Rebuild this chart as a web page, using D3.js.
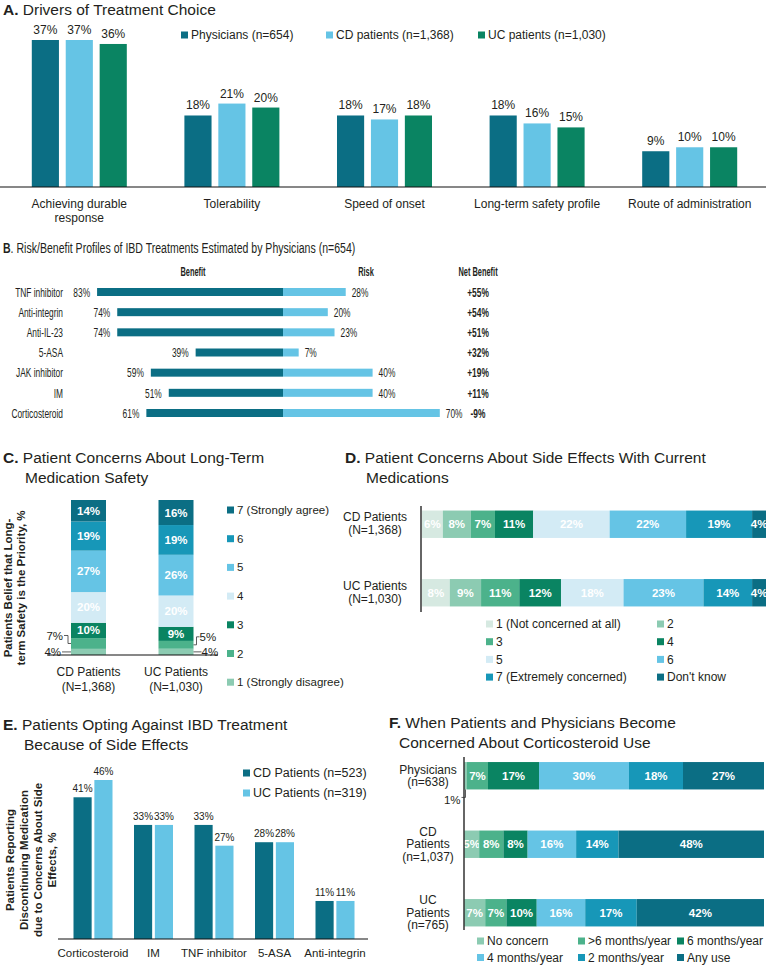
<!DOCTYPE html>
<html>
<head>
<meta charset="utf-8">
<script src="https://cdn.jsdelivr.net/npm/d3@7"></script>
<style>
  body { margin: 0; background: #fff; }
  text { font-family: "Liberation Sans", Arial, Helvetica, sans-serif; fill: #231f20; }
</style>
</head>
<body>
<div id="chart"></div>
<script>
// ---- data ----
const driverCats = ["Achieving durable\nresponse", "Tolerability", "Speed of onset", "Long-term safety profile", "Route of administration"];
const driverGroups = ["Physicians (n=654)", "CD patients (n=1,368)", "UC patients (n=1,030)"];
const driverPhys = [37, 18, 18, 18, 9];
const driverCD = [37, 21, 17, 16, 10];
const driverUC = [36, 20, 18, 15, 10];

const treatments = ["TNF inhibitor", "Anti-integrin", "Anti-IL-23", "5-ASA", "JAK inhibitor", "IM", "Corticosteroid"];
const benefit = [83, 74, 74, 39, 59, 51, 61];
const risk = [28, 20, 23, 7, 40, 40, 70];

const safetyKeys = ["1 (Strongly disagree)", "2", "3", "4", "5", "6", "7 (Strongly agree)"];
const safetyGroups = ["CD Patients\n(N=1,368)", "UC Patients\n(N=1,030)"];
const safetyCD = [4, 7, 10, 20, 27, 19, 14];
const safetyUC = [4, 5, 9, 20, 26, 19, 16];

const sideKeys = ["1 (Not concerned at all)", "2", "3", "4", "5", "6", "7 (Extremely concerned)", "Don't know"];
const sideGroups = ["CD Patients\n(N=1,368)", "UC Patients\n(N=1,030)"];
const sideCD = [6, 8, 7, 11, 22, 22, 19, 4];
const sideUC = [8, 9, 11, 12, 18, 23, 14, 4];

const optCats = ["Corticosteroid", "IM", "TNF inhibitor", "5-ASA", "Anti-integrin"];
const optGroups = ["CD Patients (n=523)", "UC Patients (n=319)"];
const optCD = [41, 33, 33, 28, 11];
const optUC = [46, 33, 27, 28, 11];

const steroidKeys = ["No concern", ">6 months/year", "6 months/year", "4 months/year", "2 months/year", "Any use"];
const steroidGroups = ["Physicians\n(n=638)", "CD\nPatients\n(n=1,037)", "UC\nPatients\n(n=765)"];
const steroidPhys = [1, 7, 17, 30, 18, 27];
const steroidCD = [5, 8, 8, 16, 14, 48];
const steroidUC = [7, 7, 10, 16, 17, 42];

// colours
const TEAL = "#0b6e84", MTEAL = "#1797b8", LBLUE = "#65c4e5", PBLUE = "#d3ebf5";
const GREEN = "#0a8462", MGREEN = "#4cb28b", LGREEN = "#8ccbb2", PGREEN = "#d6e9e1";

const W = 768, H = 966;
const svg = d3.select("#chart").append("svg").attr("width", W).attr("height", H);

// titles: bold letter then regular text
function title(x, y, letter, rest, line2, x2) {
  const t = svg.append("text").attr("x", x).attr("y", y).attr("dy", "0.35em")
    .style("font-size", "15.5px");
  t.append("tspan").attr("font-weight", "bold").text(letter);
  t.append("tspan").text(rest);
  if (line2) {
    svg.append("text").attr("x", x2).attr("y", y + 20).attr("dy", "0.35em")
      .style("font-size", "15.5px").text(line2);
  }
}

function legendItem(g, x, y, color, label, size) {
  g.append("rect").attr("x", x).attr("y", y - 3.5).attr("width", 7).attr("height", 7).attr("fill", color);
  g.append("text").attr("x", x + 10).attr("y", y).attr("dy", "0.35em")
    .style("font-size", (size || 12) + "px").text(label);
}

// ================= A =================
title(3, 10, "A.", " Drivers of Treatment Choice");
const gA = svg.append("g");
const xA = d3.scaleBand().domain(driverCats).range([3, 766]);
const xA2 = d3.scaleBand().domain(driverGroups).range([-47.5, 47.5]).paddingInner(0.2);
const yA = d3.scaleLinear().domain([0, 37]).range([187, 40]);
const colA = d3.scaleOrdinal().domain(driverGroups).range([TEAL, LBLUE, GREEN]);
const seriesA = [driverPhys, driverCD, driverUC];
const flatA = [];
driverCats.forEach((c, i) => driverGroups.forEach((g, j) => flatA.push({ cat: c, grp: g, v: seriesA[j][i] })));

gA.selectAll("rect.bar").data(flatA).join("rect")
  .attr("x", d => xA(d.cat) + xA.bandwidth() / 2 + xA2(d.grp))
  .attr("width", xA2.bandwidth())
  .attr("y", d => yA(d.v)).attr("height", d => yA(0) - yA(d.v))
  .attr("fill", d => colA(d.grp));
gA.selectAll("text.val").data(flatA).join("text")
  .attr("x", d => xA(d.cat) + xA.bandwidth() / 2 + xA2(d.grp) + xA2.bandwidth() / 2)
  .attr("y", d => yA(d.v) - 6).attr("text-anchor", "middle")
  .style("font-size", "12px").text(d => d.v + "%");

const axA = gA.append("g").attr("transform", `translate(0,${yA(0)})`)
  .call(d3.axisBottom(xA).tickSize(0).tickSizeOuter(0).tickPadding(12));
axA.select(".domain").attr("stroke", "#111").attr("stroke-width", 1.2).attr("d", "M0,0H766");
axA.selectAll(".tick text").style("font-size", "12px").attr("fill", "#231f20")
  .style("font-family", "Liberation Sans, Arial, sans-serif")
  .each(function (d) {
    const t = d3.select(this);
    const lines = d.split("\n");
    t.text(null);
    lines.forEach((l, i) => t.append("tspan").attr("x", 0).attr("dy", i === 0 ? "0.71em" : "1.2em").text(l));
  });

const legA = gA.append("g");
const legAx = [181, 326, 478];
driverGroups.forEach((g, j) => legendItem(legA, legAx[j], 35, colA(g), g, 12));

// ================= B =================
const SX = 0.62; // condensed type
function ctext(g, x, y, s, anchor, size, weight) {
  return g.append("text").attr("transform", `translate(${x},${y}) scale(${SX},1)`)
    .attr("dy", "0.35em").attr("text-anchor", anchor)
    .style("font-size", size + "px").attr("font-weight", weight || "normal").text(s);
}
const gB = svg.append("g");
{
  const t = gB.append("text").attr("transform", "translate(3,248) scale(0.68,1)").attr("dy", "0.35em")
    .style("font-size", "15.5px");
  t.append("tspan").attr("font-weight", "bold").text("B");
  t.append("tspan").text(". Risk/Benefit Profiles of IBD Treatments Estimated by Physicians (n=654)");
}
const xB = d3.scaleLinear().domain([-100, 100]).range([283 - 224, 283 + 224]);
const yB = d3.scalePoint().domain(treatments).range([292, 413]);
const rowsB = treatments.map((t, i) => ({ t, b: benefit[i], r: risk[i], net: benefit[i] - risk[i] }));

ctext(gB, 193, 272, "Benefit", "middle", 12, "bold");
ctext(gB, 366, 272, "Risk", "middle", 12, "bold");
ctext(gB, 478, 272, "Net Benefit", "middle", 12, "bold");

gB.selectAll("rect.ben").data(rowsB).join("rect")
  .attr("x", d => xB(-d.b)).attr("width", d => xB(0) - xB(-d.b))
  .attr("y", d => yB(d.t) - 4).attr("height", 8).attr("fill", TEAL);
gB.selectAll("rect.risk").data(rowsB).join("rect")
  .attr("x", xB(0)).attr("width", d => xB(d.r) - xB(0))
  .attr("y", d => yB(d.t) - 4).attr("height", 8).attr("fill", LBLUE);
rowsB.forEach(d => {
  const y = yB(d.t);
  ctext(gB, 63, y, d.t, "end", 13.5);
  ctext(gB, xB(-d.b) - 7, y, d.b + "%", "end", 13.5);
  ctext(gB, xB(d.r) + 6, y, d.r + "%", "start", 13.5);
  ctext(gB, 478, y, (d.net >= 0 ? "+" : "-") + Math.abs(d.net) + "%", "middle", 13.5, "bold");
});

// ================= C =================
title(3, 458, "C.", " Patient Concerns About Long-Term", "Medication Safety", 25);
const gC = svg.append("g");
const colSafety = d3.scaleOrdinal().domain(safetyKeys).range([LGREEN, MGREEN, GREEN, PBLUE, LBLUE, MTEAL, TEAL]);
const rowsC = safetyGroups.map((g, i) => {
  const o = { grp: g };
  safetyKeys.forEach((k, j) => o[k] = (i === 0 ? safetyCD : safetyUC)[j]);
  return o;
});
const stackC = d3.stack().keys(safetyKeys).offset(d3.stackOffsetExpand)(rowsC);
const xC = d3.scaleBand().domain(safetyGroups).range([44.75, 219.75]).paddingInner(0.6).paddingOuter(0.3);
const yC = d3.scaleLinear().domain([0, 1]).range([655, 500]);

stackC.forEach((layer, j) => {
  gC.selectAll(null).data(layer).join("rect")
    .attr("x", d => xC(d.data.grp)).attr("width", xC.bandwidth())
    .attr("y", d => yC(d[1])).attr("height", d => yC(d[0]) - yC(d[1]))
    .attr("fill", colSafety(layer.key));
  if (j >= 2) {
    gC.selectAll(null).data(layer).join("text")
      .attr("x", d => xC(d.data.grp) + xC.bandwidth() / 2)
      .attr("y", d => (yC(d[0]) + yC(d[1])) / 2).attr("dy", "0.35em")
      .attr("text-anchor", "middle").attr("font-weight", "bold")
      .style("font-size", "11.5px").style("fill", "#fff")
      .text(d => d.data[layer.key] + "%");
  }
});
gC.append("line").attr("x1", 47).attr("x2", 218).attr("y1", yC(0)).attr("y2", yC(0))
  .attr("stroke", "#111").attr("stroke-width", 1.2);

// small segment call-outs
{
  const mid = (li, gi) => (yC(stackC[li][gi][0]) + yC(stackC[li][gi][1])) / 2;
  const ann = gC.append("g").attr("fill", "none").attr("stroke", "#333").attr("stroke-width", 0.8);
  const cdL = xC(safetyGroups[0]), ucR = xC(safetyGroups[1]) + xC.bandwidth();
  const m2cd = mid(1, 0), m1cd = mid(0, 0), m2uc = mid(1, 1), m1uc = mid(0, 1);
  ann.append("path").attr("d", `M${cdL - 7},${m2cd - 8}H${cdL - 3}V${m2cd}H${cdL}`);
  ann.append("path").attr("d", `M${cdL - 9},${m1cd}H${cdL}`);
  ann.append("path").attr("d", `M${ucR},${m2uc}H${ucR + 3}V${m2uc - 8}H${ucR + 6}`);
  ann.append("path").attr("d", `M${ucR},${m1uc}H${ucR + 8}`);
  const st = (x, y, s, a) => gC.append("text").attr("x", x).attr("y", y).attr("dy", "0.35em")
    .attr("text-anchor", a).style("font-size", "11.5px").text(s);
  st(cdL - 8, m2cd - 8, safetyCD[1] + "%", "end");
  st(cdL - 10, m1cd, safetyCD[0] + "%", "end");
  st(ucR + 6, m2uc - 8, safetyUC[1] + "%", "start");
  st(ucR + 8, m1uc, safetyUC[0] + "%", "start");
}
safetyGroups.forEach(g => {
  const t = gC.append("text").attr("x", xC(g) + xC.bandwidth() / 2).attr("y", 678)
    .attr("text-anchor", "middle").style("font-size", "12px");
  g.split("\n").forEach((l, i) => t.append("tspan").attr("x", xC(g) + xC.bandwidth() / 2)
    .attr("dy", i === 0 ? "-0.2em" : "1.25em").text(l));
});
{
  const t = gC.append("text").attr("transform", "translate(14,588) rotate(-90)")
    .attr("text-anchor", "middle").attr("font-weight", "bold").style("font-size", "11.5px");
  t.append("tspan").attr("x", 0).attr("dy", "-0.15em").text("Patients Belief that Long-");
  t.append("tspan").attr("x", 0).attr("dy", "1.1em").text("term Safety is the Priority, %");
}
safetyKeys.slice().reverse().forEach((k, i) => legendItem(gC, 227, 510 + i * 28.7, colSafety(k), k, 11.5));

// ================= D =================
title(345, 458, "D.", " Patient Concerns About Side Effects With Current", "Medications", 366);
const gD = svg.append("g");
const colSide = d3.scaleOrdinal().domain(sideKeys).range([PGREEN, LGREEN, MGREEN, GREEN, PBLUE, LBLUE, MTEAL, TEAL]);
const rowsD = sideGroups.map((g, i) => {
  const o = { grp: g };
  sideKeys.forEach((k, j) => o[k] = (i === 0 ? sideCD : sideUC)[j]);
  return o;
});
const stackD = d3.stack().keys(sideKeys).offset(d3.stackOffsetExpand)(rowsD);
const yD = d3.scaleBand().domain(sideGroups).range([490, 627]).paddingInner(0.6).paddingOuter(0.3);
const xD = d3.scaleLinear().domain([0, 1]).range([422, 766]);
stackD.forEach(layer => {
  gD.selectAll(null).data(layer).join("rect")
    .attr("y", d => yD(d.data.grp)).attr("height", yD.bandwidth())
    .attr("x", d => xD(d[0])).attr("width", d => xD(d[1]) - xD(d[0]))
    .attr("fill", colSide(layer.key));
  gD.selectAll(null).data(layer).join("text")
    .attr("x", d => (xD(d[0]) + xD(d[1])) / 2).attr("y", d => yD(d.data.grp) + yD.bandwidth() / 2)
    .attr("dy", "0.35em").attr("text-anchor", "middle").attr("font-weight", "bold")
    .style("font-size", "11.5px").style("fill", "#fff")
    .text(d => d.data[layer.key] + "%");
});
gD.append("line").attr("x1", 421).attr("x2", 421).attr("y1", 506).attr("y2", 612)
  .attr("stroke", "#333").attr("stroke-width", 1.5);
sideGroups.forEach(g => {
  const cy = yD(g) + yD.bandwidth() / 2;
  const t = gD.append("text").attr("x", 375).attr("y", cy).attr("text-anchor", "middle").style("font-size", "12px");
  g.split("\n").forEach((l, i) => t.append("tspan").attr("x", 375).attr("dy", i === 0 ? "-0.25em" : "1.1em").text(l));
});
sideKeys.forEach((k, i) => legendItem(gD, i % 2 === 0 ? 486 : 657, 624 + Math.floor(i / 2) * 17.7, colSide(k), k, 12));

// ================= E =================
title(3, 725, "E.", " Patients Opting Against IBD Treatment", "Because of Side Effects", 24);
const gE = svg.append("g");
const xE = d3.scaleBand().domain(optCats).range([62.75, 365.25]);
const xE2 = d3.scaleBand().domain(optGroups).range([-19.5, 19.5]).paddingInner(0.13);
const yE = d3.scaleLinear().domain([0, 46]).range([939, 780]);
const colE = d3.scaleOrdinal().domain(optGroups).range([TEAL, LBLUE]);
const flatE = [];
optCats.forEach((c, i) => optGroups.forEach((g, j) => flatE.push({ cat: c, grp: g, v: [optCD, optUC][j][i] })));
gE.selectAll("rect").data(flatE).join("rect")
  .attr("x", d => xE(d.cat) + xE.bandwidth() / 2 + xE2(d.grp)).attr("width", xE2.bandwidth())
  .attr("y", d => yE(d.v)).attr("height", d => yE(0) - yE(d.v)).attr("fill", d => colE(d.grp));
gE.selectAll("text.val").data(flatE).join("text")
  .attr("x", d => xE(d.cat) + xE.bandwidth() / 2 + xE2(d.grp) + xE2.bandwidth() / 2)
  .attr("y", d => yE(d.v) - 5).attr("text-anchor", "middle").style("font-size", "10px")
  .text(d => d.v + "%");
const axE = gE.append("g").attr("transform", `translate(0,${yE(0)})`)
  .call(d3.axisBottom(xE).tickSize(0).tickSizeOuter(0).tickPadding(10));
axE.select(".domain").attr("stroke", "#111").attr("stroke-width", 1.2).attr("d", "M58,0H368");
axE.selectAll(".tick text").style("font-size", "11.5px").attr("fill", "#231f20")
  .style("font-family", "Liberation Sans, Arial, sans-serif");
{
  const t = gE.append("text").attr("transform", "translate(30,860) rotate(-90)")
    .attr("text-anchor", "middle").attr("font-weight", "bold").style("font-size", "11.5px");
  ["Patients Reporting", "Discontinuing Medication", "due to Concerns About Side", "Effects, %"].forEach((l, i) =>
    t.append("tspan").attr("x", 0).attr("dy", i === 0 ? "-1.35em" : "1.2em").text(l));
}
optGroups.forEach((g, j) => legendItem(gE, 243, 773 + j * 20, colE(g), g, 12.5));

// ================= F =================
title(389, 723, "F.", " When Patients and Physicians Become", "Concerned About Corticosteroid Use", 399);
const gF = svg.append("g");
const colF = d3.scaleOrdinal().domain(steroidKeys).range([LGREEN, MGREEN, GREEN, LBLUE, MTEAL, TEAL]);
const rowsF = steroidGroups.map((g, i) => {
  const o = { grp: g };
  steroidKeys.forEach((k, j) => o[k] = [steroidPhys, steroidCD, steroidUC][i][j]);
  return o;
});
const stackF = d3.stack().keys(steroidKeys).offset(d3.stackOffsetExpand)(rowsF);
const yF = d3.scaleBand().domain(steroidGroups).range([741.5, 947]).paddingInner(0.6).paddingOuter(0.3);
const xF = d3.scaleLinear().domain([0, 1]).range([464, 764]);
stackF.forEach(layer => {
  gF.selectAll(null).data(layer).join("rect")
    .attr("y", d => yF(d.data.grp)).attr("height", yF.bandwidth())
    .attr("x", d => xF(d[0])).attr("width", d => xF(d[1]) - xF(d[0]))
    .attr("fill", colF(layer.key));
  gF.selectAll(null).data(layer.filter(d => d.data[layer.key] > 1)).join("text")
    .attr("x", d => (xF(d[0]) + xF(d[1])) / 2).attr("y", d => yF(d.data.grp) + yF.bandwidth() / 2)
    .attr("dy", "0.35em").attr("text-anchor", "middle").attr("font-weight", "bold")
    .style("font-size", "11.5px").style("fill", "#fff")
    .text(d => d.data[layer.key] + "%");
});
gF.append("line").attr("x1", 464).attr("x2", 464).attr("y1", 757).attr("y2", 930)
  .attr("stroke", "#333").attr("stroke-width", 1.5);
{
  const physBottom = yF(steroidGroups[0]) + yF.bandwidth();
  const s = stackF[0][0];
  const mx = (xF(s[0]) + xF(s[1])) / 2;
  gF.append("path").attr("d", `M${mx},${physBottom}V${physBottom + 8}H${mx - 4}`)
    .attr("fill", "none").attr("stroke", "#333").attr("stroke-width", 0.8);
  gF.append("text").attr("x", mx - 5).attr("y", physBottom + 11).attr("dy", "0.35em")
    .attr("text-anchor", "end").style("font-size", "11.5px").text(steroidPhys[0] + "%");
}
steroidGroups.forEach(g => {
  const cy = yF(g) + yF.bandwidth() / 2;
  const lines = g.split("\n");
  const t = gF.append("text").attr("x", 428).attr("y", cy).attr("text-anchor", "middle").style("font-size", "12px");
  lines.forEach((l, i) => t.append("tspan").attr("x", 428)
    .attr("y", cy + (i - (lines.length - 1) / 2) * 12.5).attr("dy", "0.35em").text(l));
});
steroidKeys.forEach((k, i) => legendItem(gF, [477, 578, 677][i % 3], 941 + Math.floor(i / 3) * 16.5, colF(k), k, 12));
</script>
</body>
</html>
